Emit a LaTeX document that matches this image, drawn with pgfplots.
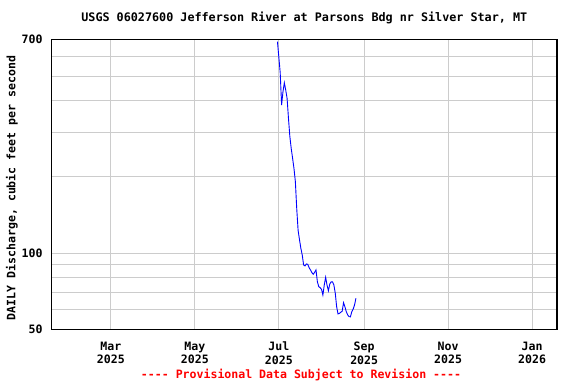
\documentclass[border=0pt]{standalone}
\usepackage{fontspec}
\setmonofont{DejaVu Sans Mono}
\renewcommand{\familydefault}{\ttdefault}
\usepackage{pgfplots}
\pgfplotsset{compat=1.18}
\pgfplotstableread{
day value
180 685
181 595
182 516
183 385
184 434
185 471
186 441
187 409
188 341
189 289
190 259
191 237
192 216
193 192
194 150
195 123
196 113
197 104.5
198 98.3
199 89.8
200 89
201 90.6
202 90.3
203 87.6
204 85.8
205 83.7
206 82.5
207 84
208 85.8
209 77.1
210 73.7
211 73
212 72
213 68.3
214 74.8
215 80.3
216 74.8
217 71
218 75.5
219 77
220 77
221 74.8
222 69.4
223 61.4
224 57.5
225 57.8
226 58.4
227 58.9
228 63.7
229 61.4
230 58.7
231 57
232 56.1
233 56
234 58.7
235 60.1
236 62.4
237 66.3
}\flowdata
\begin{document}
\ttfamily\bfseries
\begin{tikzpicture}[font=\fontsize{11.6}{14}\selectfont\ttfamily\bfseries]
\path[use as bounding box] (-51.7bp,-54.7bp) rectangle (524.3bp,329.3bp);
\begin{axis}[
  at={(0,0)}, anchor=south west,
  scale only axis, width=505.2bp, height=290bp,
  xmin=16, xmax=383,
  ymode=log, ymin=50, ymax=700,
  xtick={59,120,181,243,304,365},
  xticklabels={{Mar\\2025},{May\\2025},{Jul\\2025},{Sep\\2025},{Nov\\2025},{Jan\\2026}},
  xticklabel style={align=center, anchor=north, inner sep=0pt, yshift=-12.1bp, font=\fontsize{11.6}{14}\selectfont\ttfamily\bfseries},
  ytick={50,60,70,80,90,100,200,300,400,500,600,700},
  yticklabels={50,{},{},{},{},100,{},{},{},{},{},700},
  yticklabel style={anchor=east, inner sep=0pt, xshift=-9bp, font=\fontsize{11.6}{14}\selectfont\ttfamily\bfseries},
  /pgf/number format/assume math mode=true,
  grid=major,
  grid style={draw=gray!40, line width=1bp},
  major tick length=0pt,
  minor tick length=0pt,
  axis line style={line width=1.3bp, black},
  title={USGS 06027600 Jefferson River at Parsons Bdg nr Silver Star, MT},
  title style={at={(0.5,1)}, anchor=base, yshift=12.3bp, inner sep=0pt, font=\fontsize{11.8}{14}\selectfont\ttfamily\bfseries},
  ylabel={DAILY Discharge, cubic feet per second},
  ylabel style={at={(axis description cs:0,0.5)}, anchor=center, yshift=39.7bp, xshift=-3.7bp, inner sep=0pt, font=\fontsize{11.6}{14}\selectfont\ttfamily\bfseries},
]
\addplot[blue, line width=0.9bp, mark=none] table[x=day, y=value] {\flowdata};
\end{axis}
\node[text=red, inner sep=0pt, font=\fontsize{11.6}{14}\selectfont\ttfamily\bfseries] at (249.3bp,-45.7bp) {---- Provisional Data Subject to Revision ----};
\end{tikzpicture}
\end{document}
